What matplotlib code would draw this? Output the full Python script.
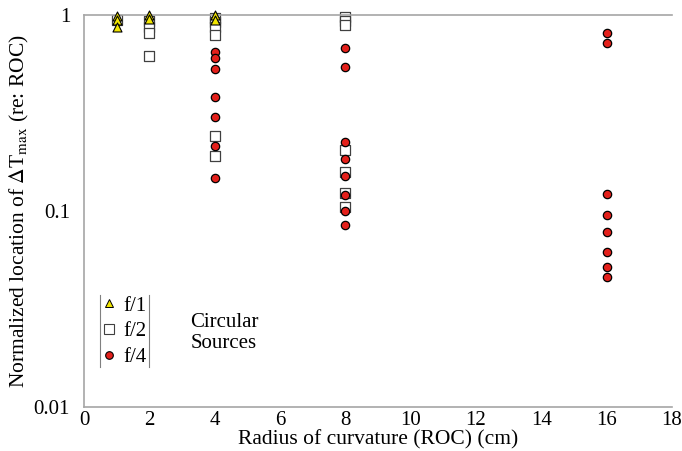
import matplotlib
matplotlib.use("Agg")
import matplotlib.pyplot as plt
from matplotlib.lines import Line2D

plt.rcParams['font.family'] = ['Liberation Serif', 'DejaVu Serif']
plt.rcParams['mathtext.fontset'] = 'stix'

# f/1 sources
f1_x = [1, 1, 1, 2, 2, 4, 4]
f1_y = [0.99, 0.94, 0.87, 1.0, 0.95, 1.0, 0.94]

# f/2 sources
f2_x = [1, 2, 2, 2, 2, 4, 4, 4, 4, 4, 4, 8, 8, 8, 8, 8, 8, 8]
f2_y = [0.94, 0.93, 0.87, 0.81, 0.62, 0.965, 0.92, 0.87, 0.79, 0.24, 0.19,
        0.98, 0.93, 0.89, 0.205, 0.158, 0.124, 0.105]

# f/4 sources
f4_x = [4, 4, 4, 4, 4, 4, 4, 8, 8, 8, 8, 8, 8, 8, 8,
        16, 16, 16, 16, 16, 16, 16, 16]
f4_y = [0.648, 0.60, 0.53, 0.38, 0.30, 0.215, 0.147,
        0.68, 0.54, 0.225, 0.184, 0.151, 0.121, 0.10, 0.085,
        0.81, 0.72, 0.122, 0.095, 0.078, 0.062, 0.052, 0.046]

x_ticks = [0, 2, 4, 6, 8, 10, 12, 14, 16, 18]
y_ticks = [0.01, 0.1, 1]
y_tick_labels = ['0.01', '0.1', '1']

fig = plt.figure(figsize=(6.82, 4.51), dpi=100)
ax = fig.add_axes([84 / 682, 1 - 407 / 451, (672 - 84) / 682, (407 - 15) / 451])

spine_col = '#a6a6a6'
ax.scatter(f1_x, f1_y, marker='^', s=42, facecolor='#f2e600', edgecolor='black',
           linewidth=0.8, zorder=3, clip_on=False)
ax.scatter(f2_x, f2_y, marker='s', s=48, facecolor='white', edgecolor='#404040',
           linewidth=0.9, zorder=2, clip_on=False)
ax.scatter(f4_x, f4_y, marker='o', s=36, facecolor='#e3201b', edgecolor='black',
           linewidth=0.9, zorder=4, clip_on=False)

ax.set_yscale('log')
ax.set_xlim(0, 18)
ax.set_ylim(0.01, 1)
ax.set_xticks(x_ticks)
ax.set_xticklabels([str(t) for t in x_ticks])
ax.set_yticks(y_ticks)
ax.set_yticklabels(y_tick_labels)
ax.yaxis.set_minor_locator(matplotlib.ticker.NullLocator())
ax.tick_params(axis='x', length=0, labelsize=15, pad=3)
ax.tick_params(axis='y', length=0, labelsize=15, pad=10)

for side in ['left', 'bottom', 'top']:
    ax.spines[side].set_color(spine_col)
    ax.spines[side].set_linewidth(1.2)
ax.spines['right'].set_visible(False)

ax.set_xlabel('Radius of curvature (ROC) (cm)', fontsize=15.5, labelpad=0)
ax.set_ylabel(r'Normalized location of $\Delta$T$_{\mathrm{max}}$ (re: ROC)',
              fontsize=15.5, labelpad=2)

# Legend block with bracket-style side rules
handles = [
    Line2D([], [], linestyle='none', marker='^', markersize=6, markerfacecolor='#f2e600',
           markeredgecolor='black', markeredgewidth=0.7),
    Line2D([], [], linestyle='none', marker='s', markersize=6.5, markerfacecolor='white',
           markeredgecolor='#404040', markeredgewidth=0.8),
    Line2D([], [], linestyle='none', marker='o', markersize=5.5, markerfacecolor='#e3201b',
           markeredgecolor='black', markeredgewidth=0.8),
]
leg = ax.legend(handles, ['f/1', 'f/2', 'f/4'], loc='upper left',
                bbox_to_anchor=((100 - 84) / 588, (407 - 294) / 392),
                frameon=False, fontsize=15, handlelength=0.7, handletextpad=0.3,
                labelspacing=0.3, borderaxespad=0, borderpad=0.1)
ax.plot([0.5, 0.5], [0.0373, 0.016], color='#808080', lw=0.8,
        transform=ax.transData, clip_on=False)
ax.plot([2.0, 2.0], [0.0373, 0.016], color='#808080', lw=0.8,
        transform=ax.transData, clip_on=False)
ax.text(3.25, 0.0238, 'Circular\nSources', fontsize=15, ha='left', va='center',
        linespacing=1.1)

fig.savefig('out.png', dpi=100)
